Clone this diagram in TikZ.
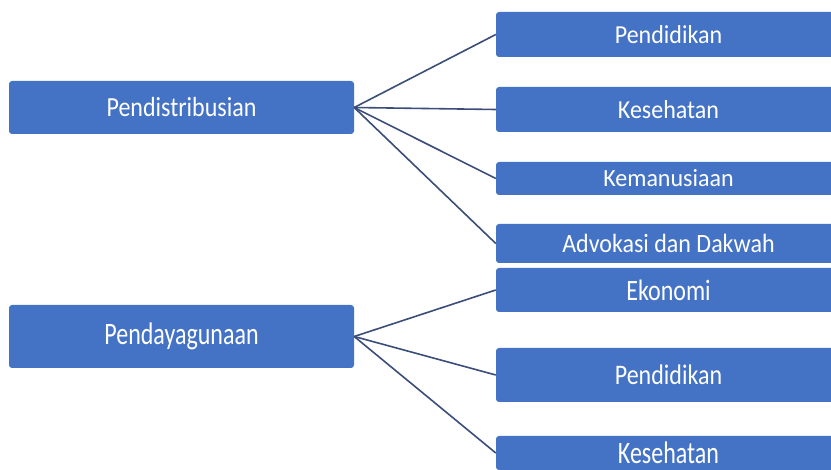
\documentclass[tikz,border=0pt]{standalone}
\usepackage{fontspec}
\setmainfont{Carlito}
\usepackage{graphicx}
\usepackage{tikz}
\definecolor{boxblue}{HTML}{4472C4}
\definecolor{linkblue}{HTML}{3B4E7A}
% teks sedikit dipanjangkan ke atas
\newcommand{\tinggi}[2]{\scalebox{1}[#1]{#2}}

\begin{document}
\begin{tikzpicture}[x=1pt,y=-1pt,
        kotak/.style={fill=boxblue,rounded corners=3pt,text=white,minimum width=345pt,inner sep=0pt,font=\fontsize{24}{24}\selectfont},
        garis/.style={draw=linkblue,line width=1.6pt}]
    \clip (0,0) rectangle (831,470);
    \fill[white] (0,0) rectangle (831,470);
    % kiri
    \node[kotak,minimum height=53pt] (distribusi) at (181.5,107.5) {\tinggi{1.15}{Pendistribusian}};
    \node[kotak,minimum height=63pt] (dayaguna) at (181.5,336.5) {\tinggi{1.3}{Pendayagunaan}};
    % kanan atas
    \node[kotak,minimum height=45pt] (didik) at (668.5,34.5) {\tinggi{1.08}{Pendidikan}};
    \node[kotak,minimum height=45pt] (sehat) at (668.5,109.5) {\tinggi{1.08}{Kesehatan}};
    \node[kotak,minimum height=33pt] (manusia) at (668.5,178.5) {\tinggi{1.03}{Kemanusiaan}};
    \node[kotak,minimum height=39pt] (dakwah) at (668.5,243.5) {\tinggi{1.1}{Advokasi dan Dakwah}};
    % kanan bawah
    \node[kotak,minimum height=44pt] (ekonomi) at (668.5,290) {\tinggi{1.23}{Ekonomi}};
    \node[kotak,minimum height=54pt] (didikb) at (668.5,375) {\tinggi{1.18}{Pendidikan}};
    \node[kotak,minimum height=34pt] (sehatb) at (668.5,453) {\tinggi{1.3}{Kesehatan}};
    % garis
    \draw[garis] (distribusi.east) -- (didik.west);
    \draw[garis] (distribusi.east) -- (sehat.west);
    \draw[garis] (distribusi.east) -- (manusia.west);
    \draw[garis] (distribusi.east) -- (dakwah.west);
    \draw[garis] (dayaguna.east) -- (ekonomi.west);
    \draw[garis] (dayaguna.east) -- (didikb.west);
    \draw[garis] (dayaguna.east) -- (sehatb.west);
\end{tikzpicture}
\end{document}
